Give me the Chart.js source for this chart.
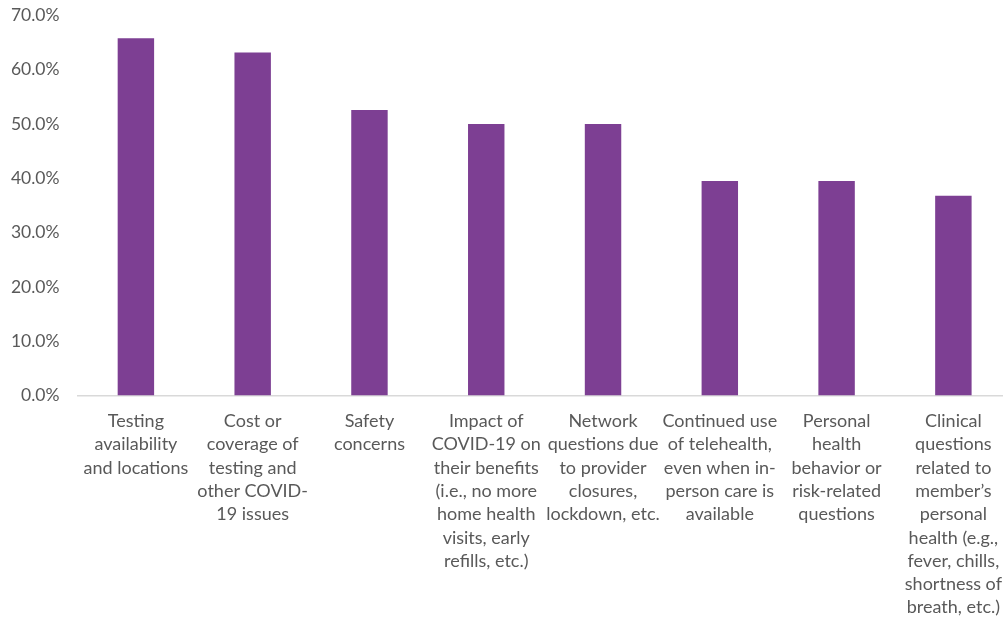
<!DOCTYPE html>
<html>
<head>
<meta charset="utf-8">
<script src="https://cdn.jsdelivr.net/npm/chart.js@4/dist/chart.umd.min.js"></script>
<style>
  html, body { margin: 0; padding: 0; background: #fff; overflow: hidden; width: 1003px; height: 622px; }
  #wrap { width: 1016px; height: 622px; }
</style>
</head>
<body>
<div id="wrap"><canvas id="c" width="1016" height="622"></canvas></div>
<script>
// Topics members asked about (multi-line category labels)
const categories = [
  ["Testing", "availability", "and locations"],
  ["Cost or", "coverage of", "testing and", "other COVID-", "19 issues"],
  ["Safety", "concerns"],
  ["Impact of", "COVID-19 on", "their benefits", "(i.e., no more", "home health", "visits, early", "refills, etc.)"],
  ["Network", "questions due", "to provider", "closures,", "lockdown, etc."],
  ["Continued use", "of telehealth,", "even when in-", "person care is", "available"],
  ["Personal", "health", "behavior or", "risk-related", "questions"],
  ["Clinical", "questions", "related to", "member\u2019s", "personal", "health (e.g.,", "fever, chills,", "shortness of", "breath, etc.)"]
];

// Share of respondents, percent
const shares = [65.8, 63.2, 52.6, 50.0, 50.0, 39.5, 39.5, 36.8];

// Y axis tick values, percent
const yTicks = [0, 10, 20, 30, 40, 50, 60, 70];

const FONT = "Lato, 'Open Sans', sans-serif";
const TEXT = "#595959";

new Chart(document.getElementById("c"), {
  type: "bar",
  data: {
    labels: categories,
    datasets: [{
      data: shares,
      backgroundColor: "#7d3f93",
      borderWidth: 0,
      categoryPercentage: 1,
      barPercentage: 0.312
    }]
  },
  options: {
    responsive: false,
    animation: false,
    layout: { padding: { top: 15.5, right: 1, left: 0, bottom: 0 } },
    plugins: { legend: { display: false }, tooltip: { enabled: false } },
    scales: {
      y: {
        min: 0,
        max: 70,
        afterBuildTicks: (s) => { s.ticks = yTicks.map(v => ({ value: v })); },
        afterFit: (s) => { s.width = 77.5; s.paddingTop = 0; s.paddingBottom = 0; },
        grid: { display: false, drawTicks: false },
        border: { display: false },
        ticks: {
          padding: 18,
          color: TEXT,
          font: { family: FONT, size: 17.5 },
          callback: (v) => v.toFixed(1) + "%"
        }
      },
      x: {
        afterFit: (s) => { s.height = 622 - 395.5; s.paddingTop = 0; s.paddingBottom = 0; },
        grid: { display: false, drawTicks: false },
        border: { display: true, color: "#d9d9d9", width: 1.5 },
        ticks: {
          padding: 14,
          maxRotation: 0,
          autoSkip: false,
          color: TEXT,
          font: { family: FONT, size: 18, lineHeight: 1.295 }
        }
      }
    }
  }
});
</script>
</body>
</html>
